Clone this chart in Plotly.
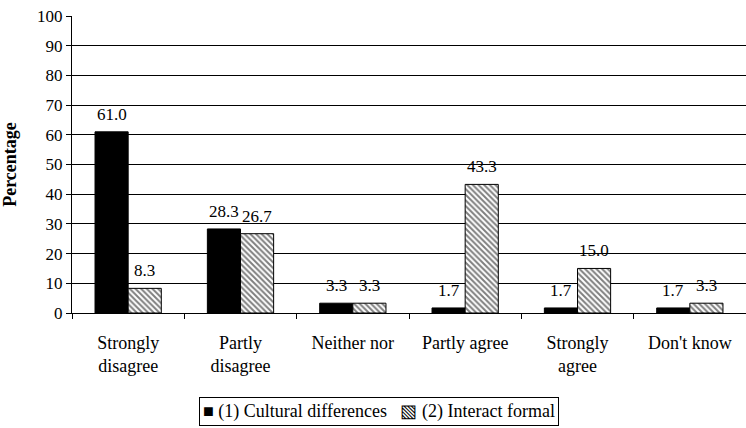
import plotly.graph_objects as go

# Response categories and the share (%) of respondents for each statement
categories = ["Strongly disagree", "Partly disagree", "Neither nor",
              "Partly agree", "Strongly agree", "Don't know"]
category_labels = ["Strongly<br>disagree", "Partly<br>disagree", "Neither nor",
                   "Partly agree", "Strongly<br>agree", "Don't know"]
series_names = ["(1) Cultural differences", "(2) Interact formal"]
cultural_differences = [61.0, 28.3, 3.3, 1.7, 1.7, 1.7]
interact_formal = [8.3, 26.7, 3.3, 43.3, 15.0, 3.3]
y_ticks = [0, 10, 20, 30, 40, 50, 60, 70, 80, 90, 100]

serif = "Liberation Serif"
BAR_HALF = 16.5  # pixel offset of each bar's centre from its category centre
NB = "\u00a0"

fig = go.Figure()
fig.add_trace(go.Bar(
    name=series_names[0],
    x=categories, y=cultural_differences,
    marker=dict(color="black", line=dict(color="black", width=1)),
))
fig.add_trace(go.Bar(
    name=series_names[1],
    x=categories, y=interact_formal,
    marker=dict(color="white", line=dict(color="black", width=1),
                pattern=dict(shape="\\", fgcolor="black", bgcolor="white",
                             size=4, solidity=0.5)),
))

# value labels above each bar
for series, shift in ((cultural_differences, -BAR_HALF), (interact_formal, BAR_HALF)):
    for cat, val in zip(categories, series):
        fig.add_annotation(
            x=cat, y=val, xref="x", yref="y", xshift=shift, yshift=6,
            text=f"{val:.1f}", showarrow=False, yanchor="bottom",
            font=dict(family=serif, size=17, color="black"),
        )

# compact boxed key below the axis, using filled / hatched square glyphs
key_text = (f"■{NB}{series_names[0]}{NB}{NB}{NB}"
            f"▧{NB}{series_names[1]}")
fig.add_annotation(
    xref="paper", yref="paper", x=0.456, y=-0.282, xanchor="center", yanchor="top",
    text=key_text,
    showarrow=False, bordercolor="black", borderwidth=1, borderpad=3,
    bgcolor="white", font=dict(family=serif, size=18, color="black"),
)

fig.update_layout(
    width=746, height=428,
    margin=dict(l=72, r=0, t=16, b=115),
    paper_bgcolor="white", plot_bgcolor="white",
    barmode="group", bargap=0.41, bargroupgap=0,
    font=dict(family=serif, size=17, color="black"),
    showlegend=False,
    xaxis=dict(
        tickmode="array", tickvals=categories, ticktext=category_labels,
        tickson="boundaries", ticks="outside", ticklen=5, tickcolor="black",
        ticklabelstandoff=13,
        showline=True, linecolor="black", linewidth=1,
        showgrid=False, tickfont=dict(family=serif, size=18, color="black"),
    ),
    yaxis=dict(
        range=[0, 100], tickvals=y_ticks,
        ticks="outside", ticklen=5, tickcolor="black",
        showline=True, linecolor="black", linewidth=1,
        showgrid=True, gridcolor="black", gridwidth=1,
        zeroline=False,
        tickfont=dict(family=serif, size=17, color="black"),
        title=dict(text="<b>Percentage</b>", standoff=16,
                   font=dict(family=serif, size=18, color="black")),
    ),
)

fig.write_html("out.html")
